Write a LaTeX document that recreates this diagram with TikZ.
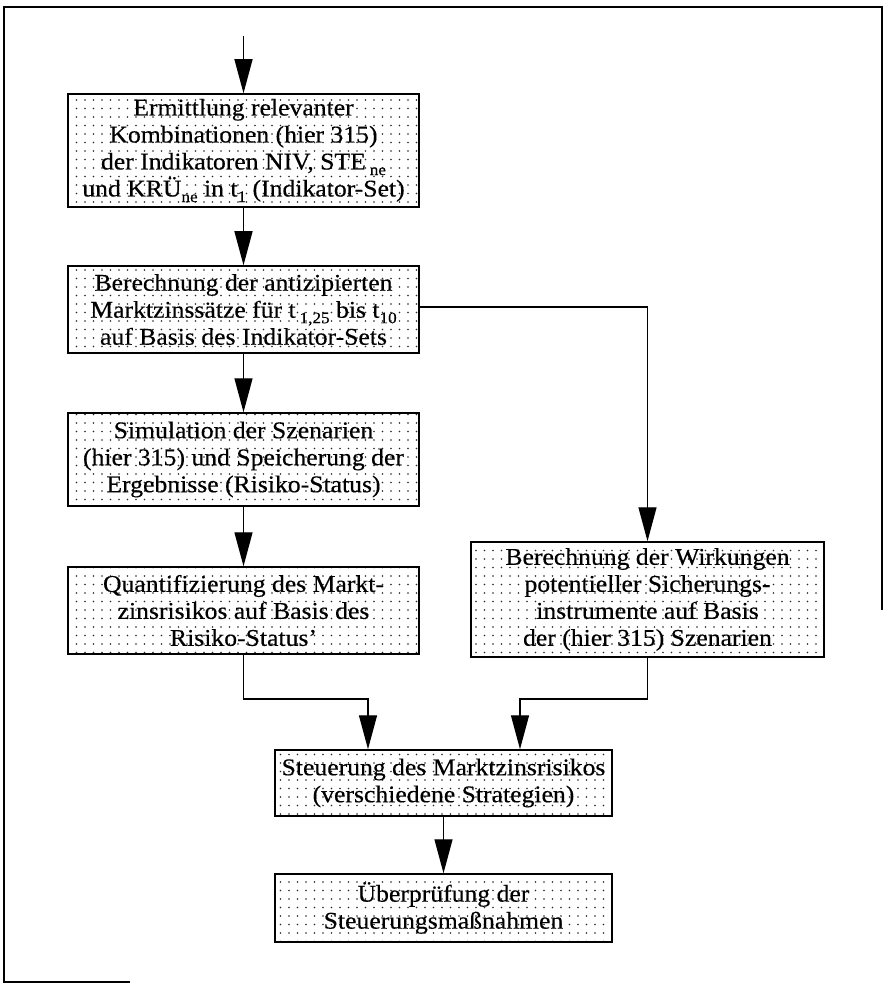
\documentclass[tikz,border=0pt]{standalone}
\usepackage{fontspec}
\setmainfont{Liberation Serif}[FakeStretch=1.07, FakeBold=0.35]
\usetikzlibrary{arrows.meta,patterns.meta}

% lowered index in text font (e.g. STE_ne)
\newcommand{\lowidx}[1]{\raisebox{-0.5ex}{\fontsize{16}{16}\selectfont #1}}

\tikzset{
  stepbox/.style={draw, line width=1.5pt,
    pattern={Dots[distance=8.5pt, radius=0.85pt]}, pattern color=black!85,
    align=center, inner sep=0pt,
    font=\fontsize{24}{27}\selectfont},
  arr/.style={line width=1.3pt, -{Triangle[length=34pt,width=18pt]}},
  frame/.style={line width=2.2pt}
}

\begin{document}
\begin{tikzpicture}[x=1pt,y=-1pt]
\useasboundingbox (0,0) rectangle (884,984);

% outer frame (open at the lower right)
\draw[frame] (130,982) -- (4,982) -- (4,7) -- (882,7) -- (882,610);

% process steps
\node[stepbox, minimum width=351pt, minimum height=113pt] (ermittlung) at (243.5,150.5)
  {Ermittlung relevanter\\
   Kombinationen (hier 315)\\
   der Indikatoren NIV, STE\,\lowidx{ne}\\
   und KRÜ\lowidx{ne} in t\lowidx{1} (Indikator-Set)};

\node[stepbox, minimum width=351pt, minimum height=87pt] (zinssaetze) at (243.5,309.5)
  {Berechnung der antizipierten\\
   Marktzinssätze für t\,\lowidx{1,25} bis t\lowidx{10}\\
   auf Basis des Indikator-Sets};

\node[stepbox, minimum width=351pt, minimum height=93pt] (simulation) at (243.5,459.5)
  {Simulation der Szenarien\\
   (hier 315) und Speicherung der\\
   Ergebnisse (Risiko-Status)};

\node[stepbox, minimum width=351pt, minimum height=87pt] (quantifizierung) at (243.5,610.5)
  {Quantifizierung des Markt-\\
   zinsrisikos auf Basis des\\
   Risiko-Status’};

\node[stepbox, minimum width=353pt, minimum height=115pt] (wirkungen) at (647.5,599.5)
  {Berechnung der Wirkungen\\
   potentieller Sicherungs-\\
   instrumente auf Basis\\
   der (hier 315) Szenarien};

\node[stepbox, minimum width=337pt, minimum height=66pt] (steuerung) at (443.5,783)
  {Steuerung des Marktzinsrisikos\\
   (verschiedene Strategien)};

\node[stepbox, minimum width=337pt, minimum height=68pt] (ueberpruefung) at (443.5,908)
  {Überprüfung der\\
   Steuerungsmaßnahmen};

% connectors
\coordinate (eingang) at (243.5,36);
\coordinate (zusammen) at (0,699);

\draw[arr] (eingang) -- (ermittlung.north);
\draw[arr] (ermittlung) -- (zinssaetze);
\draw[arr] (zinssaetze) -- (simulation);
\draw[arr] (simulation) -- (quantifizierung);
\draw[arr] ([yshift=2.5pt]zinssaetze.east) -| (wirkungen.north);
\draw[arr] (quantifizierung.south) -- (quantifizierung.south |- zusammen)
           -| ([xshift=-75.5pt]steuerung.north);
\draw[arr] (wirkungen.south) -- (wirkungen.south |- zusammen)
           -| ([xshift=76.5pt]steuerung.north);
\draw[arr] (steuerung) -- (ueberpruefung);
\end{tikzpicture}
\end{document}
